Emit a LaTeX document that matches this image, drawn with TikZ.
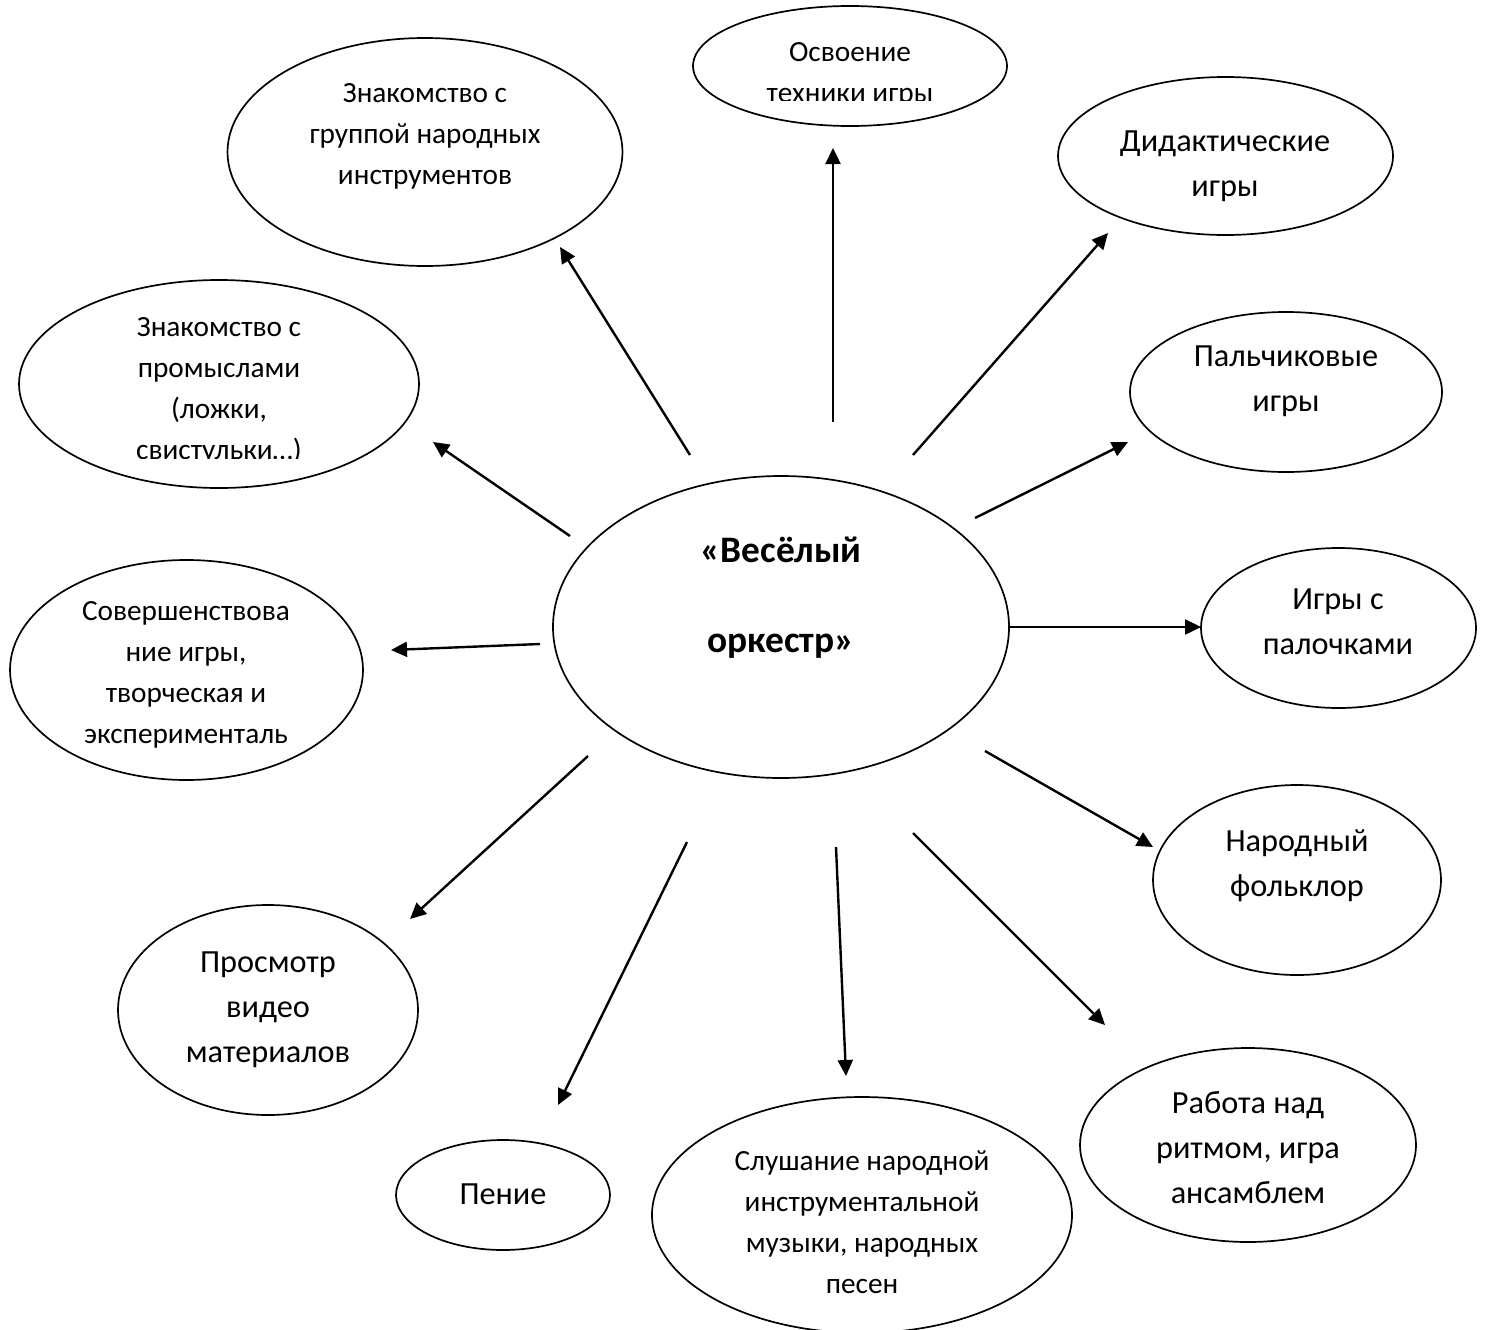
\documentclass[tikz,border=0pt]{standalone}
\usepackage{fontspec}
\setmainfont{Carlito}
\usetikzlibrary{shapes.geometric,arrows.meta}
\tikzset{
  oval/.style={draw=black, line width=1.7pt, ellipse, inner sep=0pt},
  lblsmall/.style={align=center, inner sep=0pt, font=\fontsize{29.3}{41}\selectfont},
  lblbig/.style={align=center, inner sep=0pt, font=\fontsize{32.3}{45}\selectfont},
  lblcenter/.style={align=center, inner sep=0pt, font=\fontsize{37.4}{90}\selectfont\bfseries},
  arr/.style={line width=2.4pt, -{Triangle[length=16pt,width=15pt]}}
}
\begin{document}
\begin{tikzpicture}[x=1pt,y=-1pt]
\useasboundingbox (0,0) rectangle (1488,1330);
\clip (0,0) rectangle (1488,1330);
% ellipses
\node[oval, minimum width=314pt, minimum height=120pt] (e1) at (850,66) {};
\node[oval, minimum width=395pt, minimum height=228pt] (e2) at (425,152) {};
\node[oval, minimum width=335pt, minimum height=158pt] (e3) at (1225.5,156) {};
\node[oval, minimum width=400pt, minimum height=208pt] (e4) at (219,384) {};
\node[oval, minimum width=312pt, minimum height=160pt] (e5) at (1286,392) {};
\node[oval, minimum width=456pt, minimum height=302pt] (e6) at (781,627) {};
\node[oval, minimum width=353pt, minimum height=220pt] (e7) at (186.5,670) {};
\node[oval, minimum width=275pt, minimum height=160pt] (e8) at (1338.5,628) {};
\node[oval, minimum width=288pt, minimum height=190pt] (e9) at (1297,880) {};
\node[oval, minimum width=300pt, minimum height=210pt] (e10) at (268,1010) {};
\node[oval, minimum width=214pt, minimum height=110pt] (e11) at (503,1195) {};
\node[oval, minimum width=420pt, minimum height=236pt] (e12) at (862,1215) {};
\node[oval, minimum width=336pt, minimum height=194pt] (e13) at (1248,1145) {};
% texts
\begin{scope}
\clip (693,0) rectangle (1008,100.5);
\node[lblsmall] (t1) at (850,75) {Освоение\\техники игры};
\end{scope}
\node[lblsmall] (t2) at (425,136) {Знакомство с\\группой народных\\инструментов};
\node[lblbig] (t3) at (1225,166) {Дидактические\\игры};
\begin{scope}
\clip (20,280) rectangle (420,458.5);
\node[lblsmall] (t4) at (219,391) {Знакомство с\\промыслами\\(ложки,\\свистульки…)};
\end{scope}
\node[lblbig] (t5) at (1286,381) {Пальчиковые\\игры};
\node[lblcenter] (t6) at (781,598) {«Весёлый\\оркестр»};
\node[lblsmall] (t7) at (186,675) {Совершенствова\\ние игры,\\творческая и\\эксперименталь};
\node[lblbig] (t8) at (1338,622) {Игры с\\палочками};
\node[lblbig] (t9) at (1297,866) {Народный\\фольклор};
\node[lblbig] (t10) at (268,1010) {Просмотр\\видео\\материалов};
\node[lblbig] (t11) at (503,1194) {Пение};
\node[lblsmall] (t12) at (862,1222) {Слушание народной\\инструментальной\\музыки, народных\\песен};
\node[lblbig] (t13) at (1248,1148) {Работа над\\ритмом, игра\\ансамблем};
% arrow end points
\coordinate (a1s) at (833,422); \coordinate (a1e) at (833,148);
\coordinate (a2s) at (690,455); \coordinate (a2e) at (560,247);
\coordinate (a3s) at (913,455); \coordinate (a3e) at (1108,233);
\coordinate (a4s) at (570,536); \coordinate (a4e) at (433,442);
\coordinate (a5s) at (975,518); \coordinate (a5e) at (1128,442);
\coordinate (a6s) at (540,644); \coordinate (a6e) at (391,650);
\coordinate (a7s) at (1010,627); \coordinate (a7e) at (1201,627);
\coordinate (a8s) at (985,751); \coordinate (a8e) at (1153,847);
\coordinate (a9s) at (588,756); \coordinate (a9e) at (410,919);
\coordinate (a10s) at (687,842); \coordinate (a10e) at (558,1105);
\coordinate (a11s) at (836,847); \coordinate (a11e) at (846,1076);
\coordinate (a12s) at (913,833); \coordinate (a12e) at (1105,1025);
% arrows
\draw[arr] (a1s) -- (a1e);
\draw[arr] (a2s) -- (a2e);
\draw[arr] (a3s) -- (a3e);
\draw[arr] (a4s) -- (a4e);
\draw[arr] (a5s) -- (a5e);
\draw[arr] (a6s) -- (a6e);
\draw[arr] (a7s) -- (a7e);
\draw[arr] (a8s) -- (a8e);
\draw[arr] (a9s) -- (a9e);
\draw[arr] (a10s) -- (a10e);
\draw[arr] (a11s) -- (a11e);
\draw[arr] (a12s) -- (a12e);
\end{tikzpicture}
\end{document}
